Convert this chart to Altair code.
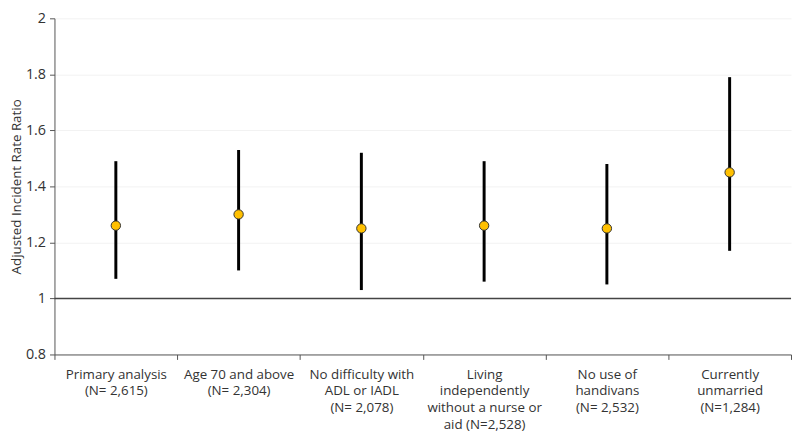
import altair as alt
import pandas as pd

categories = [
    "Primary analysis|(N= 2,615)",
    "Age 70 and above|(N= 2,304)",
    "No difficulty with|ADL or IADL|(N= 2,078)",
    "Living|independently|without a nurse or|aid (N=2,528)",
    "No use of|handivans|(N= 2,532)",
    "Currently|unmarried|(N=1,284)",
]
irr = [1.26, 1.30, 1.25, 1.26, 1.25, 1.45]
lower = [1.07, 1.10, 1.03, 1.06, 1.05, 1.17]
upper = [1.49, 1.53, 1.52, 1.49, 1.48, 1.79]
y_ticks = [0.8, 1.0, 1.2, 1.4, 1.6, 1.8, 2.0]

df = pd.DataFrame({"cat": categories, "irr": irr, "lo": lower, "hi": upper})
ref = pd.DataFrame({"v": [1.0]})

font = "Open Sans"

x = alt.X("cat:N", sort=categories, title=None,
          scale=alt.Scale(paddingInner=0, paddingOuter=0),
          axis=alt.Axis(labelExpr="split(datum.label, '|')", labelAngle=0,
                        tickBand="extent", domainColor="#555", tickColor="#555",
                        tickSize=5, labelPadding=8, labelFontSize=13.5,
                        labelColor="#333", labelFont=font, labelLineHeight=17,
                        grid=False))
yscale = alt.Scale(domain=[0.8, 2.0], nice=False, zero=False)

bars = alt.Chart(df).mark_rule(color="black", strokeWidth=3).encode(
    x=x,
    y=alt.Y("lo:Q", scale=yscale, title="Adjusted Incident Rate Ratio",
            axis=alt.Axis(values=y_ticks, format="~g", domainColor="#555",
                          tickColor="#555", tickSize=5, labelFontSize=14.5,
                          labelColor="#333", labelFont=font, titleFont=font,
                          titleFontSize=13.5, titleFontWeight="normal",
                          titleColor="#333", titlePadding=2,
                          gridColor="#f2f2f2", labelPadding=4)),
    y2="hi:Q",
)
pts = alt.Chart(df).mark_point(filled=True, fill="#FFC000", stroke="#333",
                               strokeWidth=1, size=90, opacity=1).encode(
    x=alt.X("cat:N", sort=categories), y=alt.Y("irr:Q", scale=yscale))
line = alt.Chart(ref).mark_rule(color="#444", strokeWidth=1.5).encode(
    y=alt.Y("v:Q", scale=yscale))

chart = alt.layer(line, bars, pts).properties(
    width=745, height=340,
    padding={"left": 1, "top": 0, "right": 0, "bottom": 0},
).configure_view(stroke=None)

chart.save("out.html", embed_options={"renderer": "svg", "actions": False})
